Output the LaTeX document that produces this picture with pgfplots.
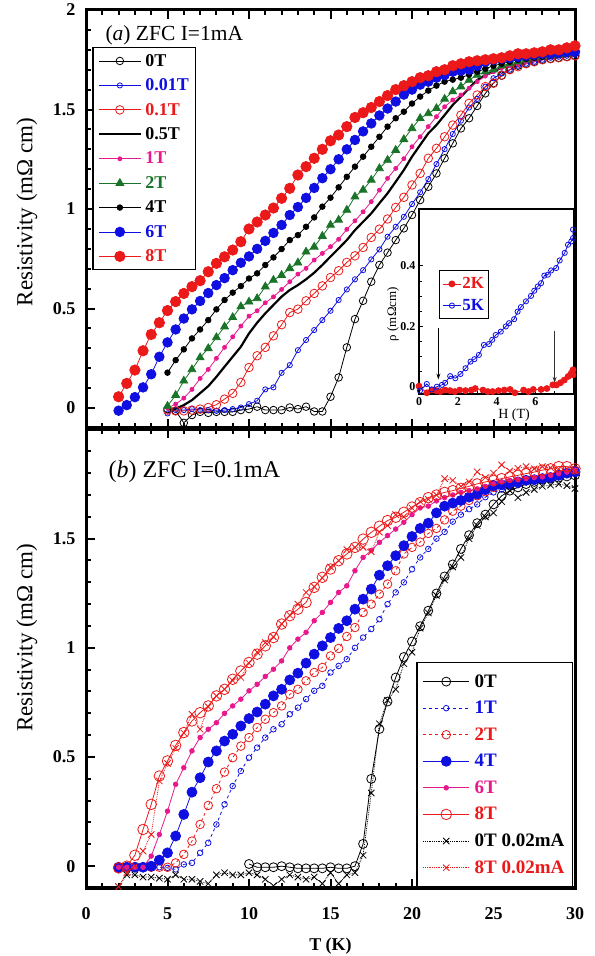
\documentclass[border=0pt]{standalone}
\usepackage{fontspec}
\setmainfont{Liberation Serif}
\usepackage{pgfplots}
\pgfplotsset{compat=1.18}
\usetikzlibrary{arrows.meta}
\definecolor{myred}{RGB}{235,25,25}
\definecolor{myblue}{RGB}{15,15,225}
\definecolor{mypink}{RGB}{232,25,140}
\definecolor{mygreen}{RGB}{25,115,40}
\pgfplotsset{
  mainax/.style={
    scale only axis, width=489bp,
    xmin=0, xmax=30, ymin=-0.1, ymax=2,
    axis line style={line width=3bp},
    tick align=inside,
    xtick={0,5,10,15,20,25,30}, minor x tick num=4,
    ytick={0,0.5,1,1.5,2}, minor y tick num=4,
    xtick pos=both, ytick pos=left,
    major tick length=9bp, minor tick length=5bp,
    tick style={black, line width=2bp},
    tick label style={font=\fontsize{18bp}{20bp}\selectfont\bfseries},
    clip=false,
  },
  legimgA/.style={legend image code/.code={\draw[mark repeat=2,mark phase=2,##1] plot coordinates {(0bp,0bp) (21bp,0bp) (42bp,0bp)};}},
  legimgB/.style={legend image code/.code={\draw[mark repeat=2,mark phase=2,##1] plot coordinates {(0bp,0bp) (23bp,0bp) (46bp,0bp)};}},
  legimgC/.style={legend image code/.code={\draw[mark repeat=2,mark phase=2,##1] plot coordinates {(0bp,0bp) (9bp,0bp) (18bp,0bp)};}},
}
\begin{document}
\begin{tikzpicture}
\path[use as bounding box] (0,0) rectangle (595bp,956bp);
% ---------------- top panel (data) ----------------
\begin{axis}[mainax, at={(86bp,528bp)}, anchor=south west, height=418bp,
  xticklabels={}, yticklabels={0,0.5,1,1.5,2},
  yticklabel style={xshift=-7bp},
  ylabel={Resistivity (mΩ cm)},
  ylabel style={at={(axis description cs:-0.121,0.517)}, anchor=center, font=\fontsize{23bp}{26bp}\selectfont},
]
\addplot[black, line width=0.8bp, mark=o, mark size=3.8bp] coordinates {
(5,-0.005)(5.5,-0.014)(6,-0.074)(6.5,-0.035)(7,-0.019)(7.5,-0.024)(8,-0.019)(8.5,-0.019)(9,-0.019)(9.5,-0.01)(10,-0.005)(10.5,0.007)(11,-0.01)(11.5,-0.01)(12,-0.01)(12.5,0.003)(13,-0.005)(13.5,0.007)(14,-0.017)(14.5,-0.017)(15,0.057)(15.5,0.154)(16,0.305)(16.5,0.447)(17,0.539)(17.5,0.635)(18,0.719)(18.5,0.781)(19,0.844)(19.5,0.903)(20,0.97)(20.5,1.045)(21,1.112)(21.5,1.179)(22,1.255)(22.5,1.33)(23,1.405)(23.5,1.456)(24,1.518)(24.5,1.581)(25,1.632)(25.5,1.67)(26,1.70)(26.5,1.72)(27,1.73)(27.5,1.74)(28,1.75)(28.5,1.755)(29,1.76)(29.5,1.765)(30,1.77)};
\addplot[myblue, line width=0.8bp, mark=o, mark size=2.6bp] coordinates {
(5,-0.027)(5.5,-0.01)(6,-0.01)(6.5,-0.005)(7,-0.01)(7.5,-0.01)(8,-0.014)(8.5,-0.01)(9,-0.005)(9.5,0.003)(10,0.02)(10.5,0.037)(11,0.094)(11.5,0.104)(12,0.177)(12.5,0.216)(13,0.291)(13.5,0.342)(14,0.392)(14.5,0.442)(15,0.489)(15.5,0.543)(16,0.596)(16.5,0.647)(17,0.693)(17.5,0.747)(18,0.797)(18.5,0.861)(19,0.911)(19.5,0.961)(20,1.025)(20.5,1.084)(21,1.15)(21.5,1.226)(22,1.301)(22.5,1.377)(23,1.444)(23.5,1.51)(24,1.553)(24.5,1.615)(25,1.657)(25.5,1.681)(26,1.70)(26.5,1.72)(27,1.73)(27.5,1.74)(28,1.75)(28.5,1.76)(29,1.765)(29.5,1.77)(30,1.775)};
\addplot[myred, line width=0.8bp, mark=o, mark size=4.3bp] coordinates {
(5,-0.01)(5.5,-0.014)(6,-0.014)(6.5,-0.01)(7,-0.005)(7.5,0.003)(8,0.017)(8.5,0.045)(9,0.074)(9.5,0.129)(10,0.204)(10.5,0.263)(11,0.305)(11.5,0.363)(12,0.419)(12.5,0.48)(13,0.497)(13.5,0.539)(14,0.576)(14.5,0.614)(15,0.656)(15.5,0.69)(16,0.732)(16.5,0.765)(17,0.807)(17.5,0.857)(18,0.899)(18.5,0.95)(19,1.008)(19.5,1.059)(20,1.121)(20.5,1.179)(21,1.255)(21.5,1.305)(22,1.363)(22.5,1.422)(23,1.472)(23.5,1.531)(24,1.573)(24.5,1.615)(25,1.632)(25.5,1.673)(26,1.70)(26.5,1.715)(27,1.73)(27.5,1.74)(28,1.75)(28.5,1.755)(29,1.76)(29.5,1.765)(30,1.77)};
\addplot[black, line width=2.2bp] coordinates {
(5,-0.005)(5.5,-0.003)(6,0.015)(6.5,0.04)(7,0.075)(7.5,0.11)(8,0.157)(8.5,0.208)(9,0.258)(9.5,0.308)(10,0.375)(10.5,0.429)(11,0.476)(11.5,0.518)(12,0.56)(12.5,0.593)(13,0.618)(13.5,0.647)(14,0.68)(14.5,0.719)(15,0.761)(15.5,0.802)(16,0.844)(16.5,0.894)(17,0.936)(17.5,0.978)(18,1.029)(18.5,1.079)(19,1.137)(19.5,1.196)(20,1.263)(20.5,1.322)(21,1.38)(21.5,1.422)(22,1.472)(22.5,1.523)(23,1.564)(23.5,1.607)(24,1.648)(24.5,1.673)(25,1.69)(25.5,1.71)(26,1.72)(27,1.74)(28,1.76)(29,1.77)(30,1.78)};
\addplot[mypink, line width=0.8bp, mark=*, mark size=2bp] coordinates {
(5,0.0)(5.5,0.02)(6,0.05)(6.5,0.094)(7,0.149)(7.5,0.194)(8,0.25)(8.5,0.305)(9,0.358)(9.5,0.412)(10,0.462)(10.5,0.489)(11,0.529)(11.5,0.559)(12,0.596)(12.5,0.635)(13,0.673)(13.5,0.702)(14,0.744)(14.5,0.777)(15,0.811)(15.5,0.848)(16,0.898)(16.5,0.941)(17,0.986)(17.5,1.037)(18,1.095)(18.5,1.154)(19,1.204)(19.5,1.253)(20,1.313)(20.5,1.363)(21,1.414)(21.5,1.464)(22,1.514)(22.5,1.548)(23,1.573)(23.5,1.607)(24,1.64)(24.5,1.668)(25,1.69)(25.5,1.71)(26,1.72)(26.5,1.73)(27,1.74)(27.5,1.75)(28,1.76)(28.5,1.765)(29,1.77)(29.5,1.775)(30,1.78)};
\addplot[mygreen, line width=0.8bp, mark=triangle*, mark size=4.5bp] coordinates {
(5,0.01)(5.5,0.065)(6,0.137)(6.5,0.194)(7,0.254)(7.5,0.3)(8,0.355)(8.5,0.409)(9,0.456)(9.5,0.51)(10,0.534)(10.5,0.551)(11,0.61)(11.5,0.643)(12,0.668)(12.5,0.702)(13,0.73)(13.5,0.785)(14,0.81)(14.5,0.864)(15,0.92)(15.5,0.945)(16,0.995)(16.5,1.062)(17,1.096)(17.5,1.146)(18,1.204)(18.5,1.246)(19,1.296)(19.5,1.35)(20,1.405)(20.5,1.456)(21,1.48)(21.5,1.506)(22,1.553)(22.5,1.59)(23,1.615)(23.5,1.648)(24,1.673)(24.5,1.69)(25,1.70)(25.5,1.72)(26,1.73)(26.5,1.74)(27,1.75)(27.5,1.76)(28,1.765)(28.5,1.77)(29,1.775)(29.5,1.78)(30,1.785)};
\addplot[black, line width=0.8bp, mark=*, mark size=2.8bp] coordinates {
(5,0.178)(5.5,0.241)(6,0.295)(6.5,0.35)(7,0.395)(7.5,0.442)(8,0.496)(8.5,0.543)(9,0.58)(9.5,0.613)(10,0.651)(10.5,0.677)(11,0.719)(11.5,0.757)(12,0.799)(12.5,0.844)(13,0.869)(13.5,0.911)(14,0.958)(14.5,1.012)(15,1.057)(15.5,1.109)(16,1.162)(16.5,1.213)(17,1.263)(17.5,1.313)(18,1.363)(18.5,1.414)(19,1.456)(19.5,1.489)(20,1.53)(20.5,1.565)(21,1.595)(21.5,1.62)(22,1.64)(22.5,1.65)(23,1.66)(23.5,1.675)(24,1.69)(24.5,1.705)(25,1.72)(25.5,1.73)(26,1.74)(26.5,1.75)(27,1.755)(27.5,1.76)(28,1.765)(28.5,1.77)(29,1.775)(29.5,1.78)(30,1.785)};
\addplot[myblue, line width=0.8bp, mark=*, mark size=4.8bp] coordinates {
(2,-0.013)(2.5,0.015)(3,0.055)(3.5,0.104)(4,0.17)(4.5,0.258)(5,0.33)(5.5,0.395)(6,0.45)(6.5,0.496)(7,0.538)(7.5,0.578)(8,0.618)(8.5,0.653)(9,0.693)(9.5,0.73)(10,0.762)(10.5,0.8)(11,0.84)(11.5,0.88)(12,0.92)(12.5,0.97)(13,1.01)(13.5,1.056)(14,1.106)(14.5,1.155)(15,1.2)(15.5,1.25)(16,1.3)(16.5,1.347)(17,1.39)(17.5,1.43)(18,1.47)(18.5,1.505)(19,1.54)(19.5,1.575)(20,1.6)(20.5,1.625)(21,1.64)(21.5,1.66)(22,1.673)(22.5,1.69)(23,1.695)(23.5,1.70)(24,1.72)(24.5,1.74)(25,1.75)(25.5,1.755)(26,1.76)(26.5,1.765)(27,1.77)(27.5,1.775)(28,1.78)(28.5,1.78)(29,1.785)(29.5,1.79)(30,1.79)};
\addplot[myred, line width=0.8bp, mark=*, mark size=5.2bp] coordinates {
(2,0.057)(2.5,0.124)(3,0.191)(3.5,0.288)(4,0.37)(4.5,0.429)(5,0.49)(5.5,0.535)(6,0.576)(6.5,0.61)(7,0.64)(7.5,0.685)(8,0.727)(8.5,0.76)(9,0.794)(9.5,0.836)(10,0.9)(10.5,0.935)(11,0.97)(11.5,1.005)(12,1.054)(12.5,1.104)(13,1.171)(13.5,1.213)(14,1.255)(14.5,1.3)(15,1.343)(15.5,1.372)(16,1.414)(16.5,1.46)(17,1.484)(17.5,1.51)(18,1.54)(18.5,1.57)(19,1.60)(19.5,1.62)(20,1.64)(20.5,1.66)(21,1.67)(21.5,1.69)(22,1.70)(22.5,1.72)(23,1.73)(23.5,1.74)(24,1.745)(24.5,1.75)(25,1.755)(25.5,1.76)(26,1.77)(26.5,1.78)(27,1.78)(27.5,1.785)(28,1.79)(28.5,1.80)(29,1.80)(29.5,1.81)(30,1.82)};
\node[anchor=west, font=\fontsize{21.5bp}{24bp}\selectfont] at (rel axis cs:0.0327,0.94) {(\textit{a}) ZFC I=1mA};
\end{axis}
% ---------------- inset ----------------
\begin{axis}[at={(419bp,562bp)}, anchor=south west, scale only axis, width=155bp, height=185bp,
  xmin=0, xmax=8, ymin=-0.023, ymax=0.588,
  axis background/.style={fill=white},
  axis line style={line width=1.5bp},
  tick align=inside, tick pos=left,
  xtick={0,2,4,6,8}, xticklabels={0,2,4,6,{}}, minor x tick num=1,
  ytick={0,0.2,0.4}, yticklabels={0,0.2,0.4}, minor y tick num=3,
  major tick length=4bp, minor tick length=2.5bp,
  tick style={black, line width=1bp},
  tick label style={font=\fontsize{12bp}{14bp}\selectfont\bfseries},
  xlabel={H (T)}, ylabel={ρ (mΩcm)},
  xlabel style={at={(axis description cs:0.613,0)}, anchor=center, yshift=-21bp, font=\fontsize{14bp}{16bp}\selectfont},
  ylabel style={at={(axis description cs:-0.168,0.432)}, anchor=center, font=\fontsize{13bp}{15bp}\selectfont},
  legend cell align=left,
  legend style={at={(0.129,0.67)}, anchor=north west, draw=black, line width=1bp, fill=white,
    font=\fontsize{17bp}{19bp}\selectfont\bfseries, row sep=7bp, inner xsep=3bp, inner ysep=6bp,
    nodes={inner sep=1bp}},
]
\addplot[legimgC, myred, line width=0.8bp, mark=*, mark size=3bp] coordinates {
(0,0.003)(0.4,-0.019)(0.66,-0.01)(0.9,-0.012)(1.1,-0.015)(1.35,-0.01)(1.6,-0.012)(1.85,-0.015)(2.1,-0.01)(2.4,-0.012)(2.7,-0.01)(2.9,-0.005)(3.3,-0.01)(3.55,-0.015)(3.8,-0.015)(4.1,-0.012)(4.4,-0.01)(4.7,-0.008)(4.95,-0.019)(5.4,-0.01)(5.65,-0.015)(5.9,-0.008)(6.3,-0.008)(6.6,-0.005)(6.91,0.007)(7.1,0.007)(7.3,0.014)(7.5,0.023)(7.7,0.035)(7.86,0.046)(7.95,0.057)(7.95,0.04)};
\addlegendentry{\textcolor{myred}{2K}}
\addplot[legimgC, myblue, line width=0.8bp, mark=o, mark size=2.6bp] coordinates {
(0.05,-0.012)(0.4,0.01)(0.66,-0.008)(0.92,0.001)(1.18,0.007)(1.35,0.014)(1.61,0.036)(1.875,0.029)(2.14,0.043)(2.4,0.062)(2.66,0.084)(2.86,0.092)(3.09,0.106)(3.35,0.139)(3.61,0.142)(3.78,0.156)(3.96,0.172)(4.22,0.183)(4.48,0.2)(4.65,0.211)(4.91,0.224)(5.09,0.249)(5.26,0.264)(5.52,0.283)(5.78,0.301)(5.95,0.318)(6.13,0.332)(6.3,0.343)(6.47,0.368)(6.65,0.371)(6.82,0.385)(7.08,0.393)(7.26,0.418)(7.52,0.443)(7.69,0.47)(7.86,0.481)(7.95,0.492)(7.95,0.52)};
\addlegendentry{\textcolor{myblue}{5K}}
\draw[-{Stealth[length=6bp,width=4bp]}, line width=1bp] (axis cs:1,0.194) -- (axis cs:1,0.025);
\draw[-{Stealth[length=6bp,width=4bp]}, line width=0.8bp, black!80] (axis cs:7,0.186) -- (axis cs:7,0.014);
\end{axis}
% ---------------- bottom panel ----------------
\begin{axis}[mainax, at={(86bp,68bp)}, anchor=south west, height=458.5bp,
  xticklabels={0,5,10,15,20,25,30}, xticklabel style={yshift=-16bp},
  yticklabels={0,0.5,1,1.5,{}}, yticklabel style={xshift=-7bp},
  xlabel={T (K)},
  xlabel style={at={(axis description cs:0.5,0)}, anchor=center, yshift=-58bp, font=\fontsize{18bp}{20bp}\selectfont\bfseries},
  ylabel={Resistivity (mΩ cm)},
  ylabel style={at={(axis description cs:-0.121,0.546)}, anchor=center, font=\fontsize{23bp}{26bp}\selectfont},
  legend cell align=left,
  legend style={at={(0.675,0.4934)}, anchor=north west, draw=black, line width=1.5bp, fill=white,
    font=\fontsize{19bp}{21bp}\selectfont\bfseries, row sep=8.5bp, column sep=3bp, inner xsep=6bp, inner ysep=10bp,
    nodes={inner sep=2bp}},
]
\addplot[legimgB, black, line width=0.8bp, mark=o, mark size=4.5bp] coordinates {
(10,0.01)(10.5,-0.005)(11,-0.005)(11.5,-0.005)(12,0.0)(12.5,-0.005)(13,-0.01)(13.5,-0.01)(14,-0.01)(14.5,-0.01)(15,-0.005)(15.5,-0.01)(16,-0.01)(16.5,0.0)(17,0.102)(17.5,0.4)(18,0.628)(18.5,0.754)(19,0.864)(19.5,0.958)(20,1.029)(20.5,1.099)(21,1.17)(21.5,1.249)(22,1.327)(22.5,1.382)(23,1.453)(23.5,1.516)(24,1.571)(24.5,1.61)(25,1.657)(25.5,1.696)(26,1.72)(26.5,1.735)(27,1.75)(27.5,1.76)(28,1.77)(28.5,1.775)(29,1.78)(29.5,1.785)(30,1.79)};
\addlegendentry{0T}
\addplot[legimgB, myblue, line width=0.8bp, dashed, mark=o, mark size=2.8bp, mark options={solid}] coordinates {
(2,-0.005)(2.5,-0.005)(3,-0.005)(3.5,-0.005)(4,-0.005)(4.5,-0.005)(5,-0.008)(5.5,-0.015)(6,0.008)(6.5,0.015)(7,0.061)(7.5,0.107)(8,0.191)(8.5,0.283)(9,0.367)(9.5,0.436)(10,0.497)(10.5,0.543)(11,0.589)(11.5,0.627)(12,0.65)(12.5,0.696)(13,0.726)(13.5,0.765)(14,0.803)(14.5,0.826)(15,0.887)(15.5,0.917)(16,0.948)(16.5,1.0)(17,1.047)(17.5,1.086)(18,1.131)(18.5,1.2)(19,1.254)(19.5,1.3)(20,1.36)(20.5,1.414)(21,1.453)(21.5,1.5)(22,1.531)(22.5,1.578)(23,1.61)(23.5,1.635)(24,1.657)(24.5,1.69)(25,1.712)(25.5,1.725)(26,1.735)(26.5,1.745)(27,1.759)(27.5,1.765)(28,1.775)(28.5,1.78)(29,1.79)(29.5,1.80)(30,1.814)};
\addlegendentry{\textcolor{myblue}{1T}}
\addplot[legimgB, myred, line width=0.8bp, dashed, mark=o, mark size=4.3bp, mark options={solid}] coordinates {
(2,-0.01)(2.5,-0.01)(3,-0.005)(3.5,-0.005)(4,-0.005)(4.5,-0.005)(5,-0.005)(5.5,0.015)(6,0.054)(6.5,0.115)(7,0.191)(7.5,0.278)(8,0.355)(8.5,0.431)(9,0.497)(9.5,0.55)(10,0.589)(10.5,0.635)(11,0.673)(11.5,0.703)(12,0.734)(12.5,0.787)(13,0.81)(13.5,0.849)(14,0.887)(14.5,0.91)(15,0.963)(15.5,0.997)(16,1.052)(16.5,1.093)(17,1.162)(17.5,1.2)(18,1.246)(18.5,1.292)(19,1.353)(19.5,1.43)(20,1.46)(20.5,1.484)(21,1.524)(21.5,1.547)(22,1.586)(22.5,1.626)(23,1.649)(23.5,1.675)(24,1.696)(24.5,1.715)(25,1.735)(25.5,1.745)(26,1.751)(26.5,1.76)(27,1.767)(27.5,1.77)(28,1.775)(28.5,1.78)(29,1.79)(29.5,1.80)(30,1.814)};
\addlegendentry{\textcolor{myred}{2T}}
\addplot[legimgB, myblue, line width=0.8bp, mark=*, mark size=5bp] coordinates {
(2,-0.005)(2.5,-0.005)(3,-0.005)(3.5,-0.005)(4,0.0)(4.5,0.028)(5,0.061)(5.5,0.138)(6,0.237)(6.5,0.339)(7,0.405)(7.5,0.477)(8,0.528)(8.5,0.573)(9,0.604)(9.5,0.642)(10,0.676)(10.5,0.706)(11,0.742)(11.5,0.78)(12,0.81)(12.5,0.853)(13,0.884)(13.5,0.93)(14,0.971)(14.5,1.009)(15,1.047)(15.5,1.089)(16,1.124)(16.5,1.177)(17,1.223)(17.5,1.269)(18,1.333)(18.5,1.376)(19,1.422)(19.5,1.468)(20,1.51)(20.5,1.547)(21,1.571)(21.5,1.618)(22,1.649)(22.5,1.663)(23,1.675)(23.5,1.69)(24,1.704)(24.5,1.725)(25,1.743)(25.5,1.747)(26,1.751)(26.5,1.76)(27,1.767)(27.5,1.77)(28,1.775)(28.5,1.78)(29,1.79)(29.5,1.80)(30,1.806)};
\addlegendentry{\textcolor{myblue}{4T}}
\addplot[legimgB, mypink, line width=0.8bp, mark=*, mark size=2.3bp] coordinates {
(2,-0.005)(2.5,-0.005)(3,-0.005)(3.5,-0.005)(4,0.046)(4.5,0.145)(5,0.252)(5.5,0.375)(6,0.451)(6.5,0.528)(7,0.589)(7.5,0.627)(8,0.657)(8.5,0.70)(9,0.734)(9.5,0.765)(10,0.803)(10.5,0.833)(11,0.869)(11.5,0.902)(12,0.94)(12.5,1.0)(13,1.04)(13.5,1.071)(14,1.124)(14.5,1.162)(15,1.208)(15.5,1.254)(16,1.284)(16.5,1.353)(17,1.414)(17.5,1.446)(18,1.483)(18.5,1.514)(19,1.544)(19.5,1.575)(20,1.61)(20.5,1.641)(21,1.649)(21.5,1.673)(22,1.688)(22.5,1.70)(23,1.712)(23.5,1.72)(24,1.728)(24.5,1.74)(25,1.751)(25.5,1.76)(26,1.767)(26.5,1.77)(27,1.775)(27.5,1.78)(28,1.783)(28.5,1.79)(29,1.798)(29.5,1.805)(30,1.814)};
\addlegendentry{\textcolor{mypink}{6T}}
\addplot[legimgB, myred, line width=0.8bp, mark=o, mark size=5.3bp] coordinates {
(2,-0.008)(2.5,0.0)(3,0.05)(3.5,0.168)(4,0.283)(4.5,0.413)(5,0.482)(5.5,0.553)(6,0.612)(6.5,0.665)(7,0.703)(7.5,0.734)(8,0.78)(8.5,0.81)(9,0.856)(9.5,0.894)(10,0.933)(10.5,0.971)(11,1.009)(11.5,1.047)(12,1.109)(12.5,1.147)(13,1.177)(13.5,1.208)(14,1.277)(14.5,1.323)(15,1.361)(15.5,1.399)(16,1.43)(16.5,1.46)(17,1.498)(17.5,1.529)(18,1.557)(18.5,1.583)(19,1.598)(19.5,1.621)(20,1.645)(20.5,1.665)(21,1.688)(21.5,1.70)(22,1.712)(22.5,1.72)(23,1.73)(23.5,1.74)(24,1.751)(24.5,1.76)(25,1.767)(25.5,1.775)(26,1.783)(26.5,1.79)(27,1.798)(27.5,1.805)(28,1.814)(28.5,1.82)(29,1.83)(29.5,1.83)(30,1.82)};
\addlegendentry{\textcolor{myred}{8T}}
\addplot[legimgB, black, line width=0.8bp, densely dotted, mark=x, mark size=4.5bp, mark options={solid}] coordinates {
(2,-0.094)(2.5,-0.04)(3,-0.04)(3.5,-0.05)(4,-0.05)(4.5,-0.055)(5,-0.06)(5.5,-0.04)(6,-0.06)(6.5,-0.06)(7,-0.07)(7.5,-0.08)(8,-0.04)(8.5,-0.03)(9,-0.04)(9.5,-0.04)(10,-0.03)(10.5,-0.04)(11,-0.06)(11.5,-0.09)(12,-0.06)(12.5,-0.04)(13,-0.05)(13.5,-0.06)(14,-0.05)(14.5,-0.08)(15,-0.03)(15.5,-0.08)(16,-0.04)(16.5,-0.03)(17,0.05)(17.5,0.335)(18,0.652)(18.5,0.76)(19,0.81)(19.5,0.927)(20,0.98)(20.5,1.09)(21,1.16)(21.5,1.24)(22,1.311)(22.5,1.37)(23,1.414)(23.5,1.50)(24,1.56)(24.5,1.60)(25,1.618)(25.5,1.67)(26,1.72)(26.5,1.688)(27,1.712)(27.5,1.725)(28,1.74)(28.5,1.745)(29,1.75)(29.5,1.743)(30,1.73)};
\addlegendentry{0T 0.02mA}
\addplot[legimgB, myred, line width=0.8bp, densely dotted, mark=x, mark size=4.5bp, mark options={solid}] coordinates {
(2,-0.094)(2.5,-0.03)(3,0.0)(3.5,0.069)(4,0.145)(4.5,0.39)(5,0.47)(5.5,0.54)(6,0.61)(6.5,0.696)(7,0.627)(7.5,0.73)(8,0.78)(8.5,0.81)(9,0.85)(9.5,0.864)(10,0.93)(10.5,0.98)(11,1.024)(11.5,1.05)(12,1.11)(12.5,1.15)(13,1.2)(13.5,1.254)(14,1.28)(14.5,1.32)(15,1.37)(15.5,1.40)(16,1.45)(16.5,1.46)(17,1.46)(17.5,1.44)(18,1.53)(18.5,1.56)(19,1.61)(19.5,1.60)(20,1.64)(20.5,1.67)(21,1.68)(21.5,1.70)(22,1.775)(22.5,1.767)(23,1.74)(23.5,1.76)(24,1.806)(24.5,1.78)(25,1.80)(25.5,1.838)(26,1.81)(26.5,1.822)(27,1.83)(27.5,1.82)(28,1.83)(28.5,1.825)(29,1.82)(29.5,1.82)(30,1.81)};
\addlegendentry{\textcolor{myred}{8T 0.02mA}}
\node[anchor=west, font=\fontsize{24bp}{27bp}\selectfont] at (rel axis cs:0.039,0.908) {(\textit{b}) ZFC I=0.1mA};
\end{axis}
% ---------------- legend of the top panel, drawn from its own hidden axis ----------------
\begin{axis}[hide axis, scale only axis, width=489bp, height=418bp, at={(86bp,528bp)}, anchor=south west,
  xmin=0, xmax=30, ymin=-0.1, ymax=2,
  legend cell align=left,
  legend style={at={(0.0123,0.9115)}, anchor=north west, draw=black, line width=1.5bp, fill=white,
    font=\fontsize{18bp}{20bp}\selectfont\bfseries, row sep=8bp, column sep=2bp, inner xsep=5bp, inner ysep=5bp,
    nodes={inner sep=1.5bp}},
]
\addlegendimage{legimgA, black, line width=0.8bp, mark=o, mark size=3.8bp}
\addlegendentry{0T}
\addlegendimage{legimgA, myblue, line width=0.8bp, mark=o, mark size=2.6bp}
\addlegendentry{\textcolor{myblue}{0.01T}}
\addlegendimage{legimgA, myred, line width=0.8bp, mark=o, mark size=4.3bp}
\addlegendentry{\textcolor{myred}{0.1T}}
\addlegendimage{legimgA, black, line width=2.2bp}
\addlegendentry{0.5T}
\addlegendimage{legimgA, mypink, line width=0.8bp, mark=*, mark size=2bp}
\addlegendentry{\textcolor{mypink}{1T}}
\addlegendimage{legimgA, mygreen, line width=0.8bp, mark=triangle*, mark size=4.5bp}
\addlegendentry{\textcolor{mygreen}{2T}}
\addlegendimage{legimgA, black, line width=0.8bp, mark=*, mark size=2.8bp}
\addlegendentry{4T}
\addlegendimage{legimgA, myblue, line width=0.8bp, mark=*, mark size=4.8bp}
\addlegendentry{\textcolor{myblue}{6T}}
\addlegendimage{legimgA, myred, line width=0.8bp, mark=*, mark size=5.2bp}
\addlegendentry{\textcolor{myred}{8T}}
\end{axis}
\end{tikzpicture}
\end{document}
